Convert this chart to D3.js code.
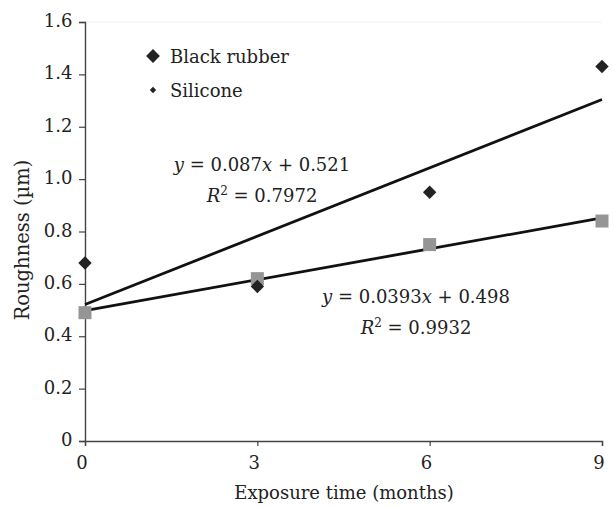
<!DOCTYPE html>
<html><head><meta charset="utf-8">
<script src="https://cdn.jsdelivr.net/npm/d3@7"></script>
<style>body{margin:0;background:#fff}svg{display:block}svg text{font-family:"DejaVu Serif",serif !important;fill:#222}</style>
</head><body><svg id="c" width="613" height="507"></svg>
<script>
const months = [0, 3, 6, 9];
const blackRubber = [0.68, 0.59, 0.95, 1.43];
const silicone = [0.49, 0.62, 0.75, 0.84];
const xTicks = [0, 3, 6, 9];
const yTicks = [0, 0.2, 0.4, 0.6, 0.8, 1.0, 1.2, 1.4, 1.6];
const fitSlope = [0.087, 0.0393];
const fitIntercept = [0.521, 0.498];
const fitEq = ["0.087", "0.0393"], fitB = ["0.521", "0.498"], fitR2 = ["0.7972", "0.9932"];

const FONT = "DejaVu Serif";
const svg = d3.select("#c");
const m = {l: 85, r: 602, t: 22, b: 441};
const x = d3.scaleLinear().domain([0, 9]).range([m.l, m.r]);
const y = d3.scaleLinear().domain([0, 1.6]).range([m.b, m.t]);

svg.append("line").attr("x1", m.l).attr("x2", m.r).attr("y1", m.t).attr("y2", m.t).attr("stroke", "#f2f2f2");

const xa = svg.append("g").attr("transform", `translate(0,${m.b})`)
  .call(d3.axisBottom(x).tickValues(xTicks).tickSize(5).tickFormat(d3.format("d")));
const ya = svg.append("g").attr("transform", `translate(${m.l},0)`)
  .call(d3.axisLeft(y).tickValues(yTicks).tickSize(6).tickFormat(d => d === 0 ? "0" : d3.format(".1f")(d)));
[xa, ya].forEach(g => {
  g.attr("font-family", FONT);
  g.select(".domain").attr("stroke", "#444").attr("stroke-width", 1.4);
  g.selectAll(".tick line").attr("stroke", "#444").attr("stroke-width", 1.2);
  g.selectAll("text").style("font-size", "18px").attr("fill", "#222");
});
xa.selectAll("text").attr("dy", "1.1em").attr("dx", "-0.2em");
ya.selectAll("text").attr("dx", "-0.2em").attr("dy", "0.25em");

function txt(xp, yp, s, anchor) {
  return svg.append("text").attr("x", xp).attr("y", yp).attr("text-anchor", anchor || "start")
    .attr("font-family", FONT).style("font-size", "18px").text(s);
}
txt(344, 499, "Exposure time (months)", "middle");
svg.append("text").attr("transform", `translate(29,240) rotate(-90)`).attr("text-anchor", "middle")
  .attr("font-family", FONT).style("font-size", "19.5px").text("Roughness (µm)");

// trend lines
[0, 1].forEach(i => {
  svg.append("line").attr("x1", x(0)).attr("y1", y(fitIntercept[i]))
    .attr("x2", x(9)).attr("y2", y(fitIntercept[i] + fitSlope[i] * 9))
    .attr("stroke", "#111").attr("stroke-width", 2.8);
});

// silicone squares
svg.selectAll(".sq").data(months).enter().append("rect")
  .attr("x", (d) => x(d) - 6.5).attr("y", (d, i) => y(silicone[i]) - 6.5)
  .attr("width", 13).attr("height", 13).attr("fill", "#959595");
// black rubber diamonds
svg.selectAll(".dm").data(months).enter().append("path")
  .attr("d", d3.symbol().type(d3.symbolSquare).size(90))
  .attr("transform", (d, i) => `translate(${x(d)},${y(blackRubber[i])}) rotate(45)`)
  .attr("fill", "#222");

// legend
svg.append("path").attr("d", d3.symbol().type(d3.symbolSquare).size(95))
  .attr("transform", "translate(153,56) rotate(45)").attr("fill", "#222");
txt(170, 63, "Black rubber");
svg.append("path").attr("d", d3.symbol().type(d3.symbolSquare).size(20))
  .attr("transform", "translate(153,90) rotate(45)").attr("fill", "#222");
txt(170, 97, "Silicone");

// equations
function eq(xc, yc, i) {
  const t = txt(xc, yc, "", "middle");
  t.append("tspan").attr("font-style", "italic").text("y");
  t.append("tspan").text(` = ${fitEq[i]}`);
  t.append("tspan").attr("font-style", "italic").text("x");
  t.append("tspan").text(` + ${fitB[i]}`);
  const r = txt(xc, yc + 31, "", "middle");
  r.append("tspan").attr("font-style", "italic").text("R");
  r.append("tspan").attr("dy", -7).style("font-size", "12px").text("2");
  r.append("tspan").attr("dy", 7).text(` = ${fitR2[i]}`);
}
eq(262, 171, 0);
eq(416, 303, 1);
</script></body></html>
